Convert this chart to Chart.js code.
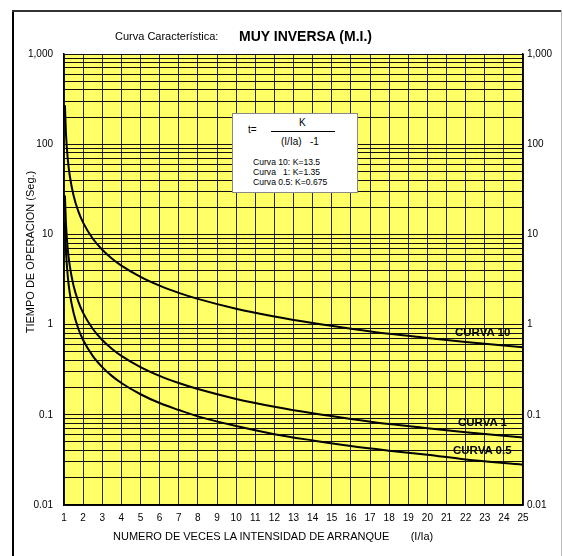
<!DOCTYPE html>
<html>
<head>
<meta charset="utf-8">
<script src="https://cdn.jsdelivr.net/npm/chart.js@4"></script>
<style>
  body { margin: 0; background: #fff; font-family: "Liberation Sans", Arial, sans-serif; }
  #wrap { position: relative; width: 563px; height: 556px; overflow: hidden; }
  #wrap canvas { position: absolute; left: 0; top: 0; }
  .txt { position: absolute; white-space: pre; color: #000; line-height: 1; pointer-events: none; }
  .frameL { position: absolute; left: 12px; top: 10px; width: 2px; height: 546px; background: #000; }
  .frameT { position: absolute; left: 12px; top: 10px; width: 550px; height: 2px; background: #333; }
  .frameR { position: absolute; left: 561px; top: 10px; width: 1px; height: 546px; background: #bbb; }
  #box { position: absolute; left: 232px; top: 113px; width: 124px; height: 78px; background: #fff; border: 1px solid #888; }
</style>
</head>
<body>
<div id="wrap">
  <canvas id="chart" width="563" height="556"></canvas>
  <div class="frameL"></div>
  <div class="frameT"></div>
  <div class="frameR"></div>

  <div class="txt" style="left:115px;top:31px;font-size:11px;">Curva Característica:</div>
  <div class="txt" style="left:239px;top:29px;font-size:14px;font-weight:bold;">MUY INVERSA (M.I.)</div>

  <div class="txt" style="left:30px;top:252px;font-size:11px;transform:translate(-50%,-50%) rotate(-90deg);">TIEMPO DE OPERACION (Seg.)</div>
  <div class="txt" style="left:113px;top:531px;font-size:11px;">NUMERO DE VECES LA INTENSIDAD DE ARRANQUE       (I/Ia)</div>

  <div id="box">
    <div class="txt" style="left:15px;top:11px;font-size:10px;">t=</div>
    <div class="txt" style="left:66px;top:4px;font-size:10px;">K</div>
    <div style="position:absolute;left:38px;top:17px;width:64px;height:1px;background:#000;"></div>
    <div class="txt" style="left:48px;top:23px;font-size:10px;">(I/Ia)   -1</div>
    <div class="txt" style="left:20px;top:44px;font-size:8.6px;">Curva 10: K=13.5</div>
    <div class="txt" style="left:20px;top:54px;font-size:8.6px;">Curva   1: K=1.35</div>
    <div class="txt" style="left:20px;top:64px;font-size:8.6px;">Curva 0.5: K=0.675</div>
  </div>

  <div class="txt" style="left:455px;top:327px;font-size:11.5px;font-weight:bold;">CURVA 10</div>
  <div class="txt" style="left:458px;top:417px;font-size:11.5px;font-weight:bold;">CURVA 1</div>
  <div class="txt" style="left:453px;top:445px;font-size:11.5px;font-weight:bold;">CURVA 0.5</div>
</div>

<script>
// I/Ia values along the curves
const xValues = [1.05, 1.1, 1.2, 1.3, 1.5, 1.75, 2, 2.5, 3, 3.5, 4, 5, 6, 7, 8, 10, 12, 14, 16, 18, 20, 22, 25];
// tiempo (seg.)
const curva10 = [270, 135, 67.5, 45, 27, 18, 13.5, 9, 6.75, 5.4, 4.5, 3.38, 2.7, 2.25, 1.93, 1.5, 1.23, 1.04, 0.9, 0.79, 0.71, 0.64, 0.56];
const curva1 = [27, 13.5, 6.75, 4.5, 2.7, 1.8, 1.35, 0.9, 0.675, 0.54, 0.45, 0.338, 0.27, 0.225, 0.193, 0.15, 0.123, 0.104, 0.09, 0.079, 0.071, 0.064, 0.056];
const curva05 = [13.5, 6.75, 3.38, 2.25, 1.35, 0.9, 0.675, 0.45, 0.338, 0.27, 0.225, 0.169, 0.135, 0.113, 0.096, 0.075, 0.061, 0.052, 0.045, 0.04, 0.036, 0.032, 0.028];

const yDecades = [0.01, 0.1, 1, 10, 100, 1000];
const yTickLabels = ["0.01", "0.1", "1", "10", "100", "1,000"];

const YELLOW = "#ffff66";

// every 1..9 line in each decade
var gridVals = [];
for (var d = 0; d < yDecades.length - 1; d++) {
  for (var m = 1; m < 10; m++) {
    gridVals.push(+(yDecades[d] * m).toPrecision(3));
  }
}
gridVals.push(1000);

function pts(arr) {
  return xValues.map(function (x, i) { return { x: x, y: arr[i] }; });
}

function yLabel(v) {
  for (var i = 0; i < yDecades.length; i++) {
    if (Math.abs(v - yDecades[i]) < yDecades[i] * 1e-6) return yTickLabels[i];
  }
  return "";
}

const plotBg = {
  id: "plotBg",
  beforeDraw: function (chart) {
    var a = chart.chartArea, ctx = chart.ctx;
    ctx.save();
    ctx.fillStyle = YELLOW;
    ctx.fillRect(a.left, a.top, a.right - a.left, a.bottom - a.top);
    ctx.restore();
  }
};

function lineSet(label, arr) {
  return {
    label: label,
    data: pts(arr),
    borderColor: "#000",
    borderWidth: 2,
    pointRadius: 0,
    fill: false,
    cubicInterpolationMode: "monotone"
  };
}

const tickFont = { family: "'Liberation Sans', Arial, sans-serif", size: 10 };

new Chart(document.getElementById("chart"), {
  type: "line",
  data: {
    datasets: [
      lineSet("Curva 10", curva10),
      lineSet("Curva 1", curva1),
      lineSet("Curva 0.5", curva05)
    ]
  },
  plugins: [plotBg],
  options: {
    responsive: false,
    animation: false,
    devicePixelRatio: 1,
    layout: { padding: { top: 54, left: 0, right: 0, bottom: 0 } },
    plugins: {
      legend: { display: false },
      tooltip: { enabled: false }
    },
    scales: {
      x: {
        type: "linear",
        min: 1,
        max: 25,
        ticks: { stepSize: 1, autoSkip: false, maxRotation: 0, color: "#000", font: tickFont, padding: 7 },
        grid: { color: "#2a2a2a", lineWidth: 1, drawTicks: false },
        border: { color: "#000", width: 1.5 },
        afterFit: function (s) { s.height = 51; }
      },
      y: {
        type: "logarithmic",
        position: "left",
        min: 0.01,
        max: 1000,
        afterBuildTicks: function (s) { s.ticks = gridVals.map(function (v) { return { value: v }; }); },
        ticks: { autoSkip: false, color: "#000", font: tickFont, padding: 11, callback: yLabel },
        grid: { color: "#111", lineWidth: 1, drawTicks: false },
        border: { color: "#000", width: 1.5 },
        afterFit: function (s) { s.width = 64; }
      },
      y2: {
        type: "logarithmic",
        position: "right",
        display: true,
        min: 0.01,
        max: 1000,
        afterBuildTicks: function (s) { s.ticks = gridVals.map(function (v) { return { value: v }; }); },
        ticks: { autoSkip: false, color: "#000", font: tickFont, padding: 4, callback: yLabel },
        grid: { display: false, drawTicks: false },
        border: { color: "#000", width: 1.5 },
        afterFit: function (s) { s.width = 40; }
      }
    }
  }
});
</script>
</body>
</html>
